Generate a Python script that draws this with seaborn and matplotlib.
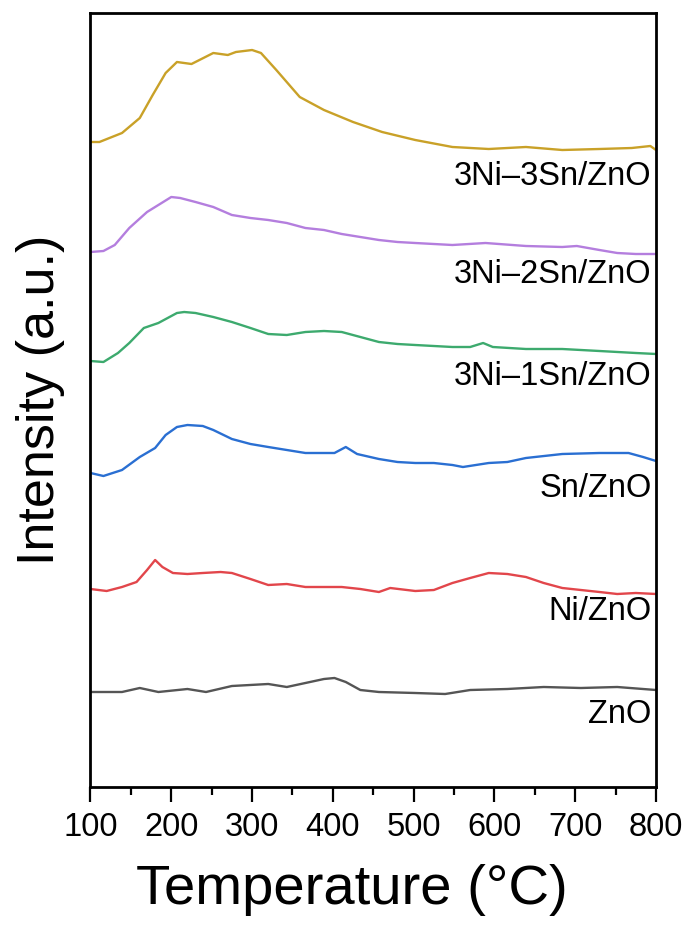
import numpy as np
import pandas as pd
import seaborn as sns
import matplotlib
matplotlib.use("Agg")
import matplotlib.pyplot as plt
import matplotlib.transforms as mtransforms
from matplotlib.ticker import MultipleLocator

# ---- data (temperature in °C, intensity in a.u., stacked offsets included) ----
t_3ni3sn = [100, 111, 139, 161, 177, 193, 207, 225, 252, 270, 280, 300, 311, 330, 359, 389, 425, 461, 502, 548, 593, 639, 684, 730, 770, 793, 800]
i_3ni3sn = [645, 645, 654, 669, 692, 714, 725, 723, 734, 732, 735, 737, 734, 717, 690, 677, 665, 655, 647, 640, 638, 640, 637, 638, 639, 641, 637]

t_3ni2sn = [100, 116, 130, 148, 170, 184, 200, 211, 230, 252, 275, 298, 320, 343, 366, 389, 411, 434, 457, 480, 502, 548, 589, 639, 684, 702, 730, 752, 775, 800]
i_3ni2sn = [535, 536, 542, 559, 575, 582, 590, 589, 585, 580, 572, 569, 567, 564, 559, 557, 553, 550, 547, 545, 544, 542, 544, 541, 540, 541, 537, 534, 533, 533]

t_3ni1sn = [100, 116, 134, 148, 166, 184, 207, 216, 230, 252, 275, 298, 320, 343, 366, 389, 411, 434, 457, 480, 502, 548, 570, 586, 598, 639, 684, 730, 775, 800]
i_3ni1sn = [426, 425, 434, 444, 459, 464, 474, 475, 474, 470, 465, 459, 453, 452, 455, 456, 455, 450, 445, 443, 442, 440, 440, 444, 440, 438, 438, 436, 434, 433]

t_sn = [100, 116, 139, 161, 180, 193, 207, 220, 239, 252, 275, 298, 320, 343, 366, 389, 402, 416, 430, 457, 480, 502, 525, 548, 561, 593, 616, 639, 684, 730, 766, 784, 800]
i_sn = [314, 311, 317, 330, 339, 352, 360, 362, 361, 357, 348, 343, 340, 337, 334, 334, 334, 340, 333, 328, 325, 324, 324, 322, 320, 324, 325, 329, 333, 334, 334, 330, 326]

t_ni = [100, 120, 139, 157, 170, 180, 189, 202, 220, 239, 261, 275, 298, 320, 343, 366, 389, 411, 434, 457, 471, 502, 525, 548, 570, 593, 616, 639, 661, 684, 707, 730, 752, 775, 800]
i_ni = [198, 196, 200, 205, 217, 227, 220, 214, 213, 214, 215, 214, 208, 202, 203, 200, 200, 200, 198, 195, 199, 196, 197, 204, 209, 214, 213, 210, 204, 199, 197, 195, 193, 194, 193]

t_zno = [100, 139, 161, 184, 220, 243, 275, 320, 343, 366, 389, 402, 416, 434, 457, 502, 539, 570, 616, 661, 707, 752, 800]
i_zno = [95, 95, 99, 95, 98, 95, 101, 103, 100, 104, 108, 109, 105, 97, 95, 94, 93, 97, 98, 100, 99, 100, 97]

samples = ["3Ni–3Sn/ZnO", "3Ni–2Sn/ZnO", "3Ni–1Sn/ZnO", "Sn/ZnO", "Ni/ZnO", "ZnO"]
label_baselines = [602, 504, 402, 290, 167, 64]
colors = ["#C9A128", "#B47EDE", "#3DAA6E", "#2A6FD2", "#E2464B", "#555555"]
x_ticks = [100, 200, 300, 400, 500, 600, 700, 800]

series = [(t_3ni3sn, i_3ni3sn), (t_3ni2sn, i_3ni2sn), (t_3ni1sn, i_3ni1sn),
          (t_sn, i_sn), (t_ni, i_ni), (t_zno, i_zno)]
frames = []
for name, (t, v) in zip(samples, series):
    frames.append(pd.DataFrame({"T": t, "I": v, "sample": name}))
df = pd.concat(frames, ignore_index=True)

sns.set_style("ticks")
plt.rcParams["font.family"] = ["Liberation Sans", "DejaVu Sans"]
plt.rcParams["text.color"] = "black"
plt.rcParams["axes.labelcolor"] = "black"
plt.rcParams["xtick.color"] = "black"
plt.rcParams["xtick.labelcolor"] = "black"

fig = plt.figure(figsize=(6.91, 9.30), dpi=100)
ax = fig.add_axes([90.5 / 691, 1 - 787 / 930, (656 - 90.5) / 691, (787 - 13) / 930])

sns.lineplot(data=df, x="T", y="I", hue="sample", palette=dict(zip(samples, colors)),
             hue_order=samples, legend=False, linewidth=1.7, ax=ax, estimator=None, sort=False)

ax.set_xlim(100, 800)
ax.set_ylim(0, 774)
ax.set_xticks(x_ticks)
ax.set_xticklabels([str(v) for v in x_ticks])
ax.xaxis.set_minor_locator(MultipleLocator(50))
ax.set_yticks([])
ax.tick_params(axis="x", which="major", length=11, width=1.6, labelsize=23.5, pad=7,
               direction="out", colors="black")
ax.tick_params(axis="x", which="minor", length=5.5, width=1.6, direction="out", colors="black")
for s in ax.spines.values():
    s.set_linewidth(2.0)
    s.set_color("black")

ax.set_xlabel("Temperature (°C)", fontsize=40.5, color="black")
ax.xaxis.set_label_coords(0.462, -0.099)
ax.set_ylabel("Intensity (a.u.)", fontsize=37.5, labelpad=18, color="black")

trans = mtransforms.blended_transform_factory(ax.transAxes, ax.transData)
for name, yb in zip(samples, label_baselines):
    ax.text(0.9924, yb, name, transform=trans, ha="right", va="baseline", fontsize=23.5, color="black")

fig.savefig("out.png", dpi=100)
